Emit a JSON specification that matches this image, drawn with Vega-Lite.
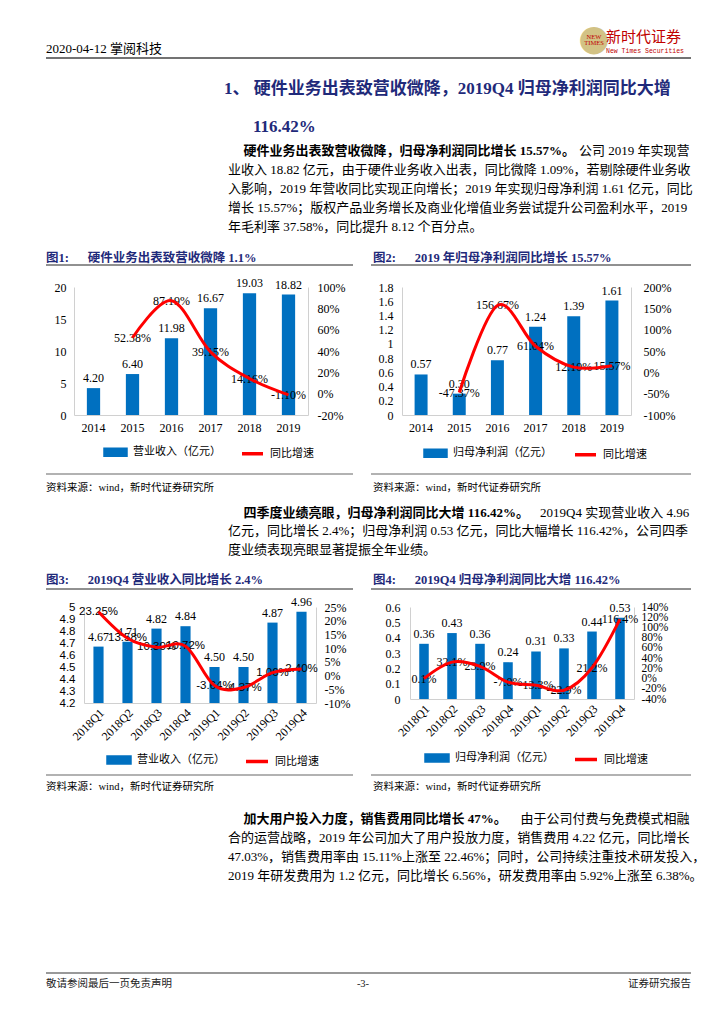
{
  "$schema": "https://vega.github.io/schema/vega-lite/v6.json",
  "padding": {"left": 45, "top": 0, "right": 0, "bottom": 0},
  "autosize": {"type": "pad"},
  "background": "white",
  "datasets": {
    "annual": [
      {"year": "2014", "rev": 4.20, "rev_yoy": null, "np": 0.57, "np_yoy": null},
      {"year": "2015", "rev": 6.40, "rev_yoy": 0.5238, "np": 0.30, "np_yoy": -0.4737},
      {"year": "2016", "rev": 11.98, "rev_yoy": 0.8719, "np": 0.77, "np_yoy": 1.5667},
      {"year": "2017", "rev": 16.67, "rev_yoy": 0.3915, "np": 1.24, "np_yoy": 0.6104},
      {"year": "2018", "rev": 19.03, "rev_yoy": 0.1416, "np": 1.39, "np_yoy": 0.1210},
      {"year": "2019", "rev": 18.82, "rev_yoy": -0.0110, "np": 1.61, "np_yoy": 0.1557}
    ],
    "quarterly": [
      {"q": "2018Q1", "rev": 4.67, "rev_yoy": 0.2325, "np": 0.36, "np_yoy": 0.001},
      {"q": "2018Q2", "rev": 4.71, "rev_yoy": 0.1358, "np": 0.43, "np_yoy": 0.321},
      {"q": "2018Q3", "rev": 4.82, "rev_yoy": 0.1030, "np": 0.36, "np_yoy": 0.239},
      {"q": "2018Q4", "rev": 4.84, "rev_yoy": 0.1072, "np": 0.24, "np_yoy": -0.070},
      {"q": "2019Q1", "rev": 4.50, "rev_yoy": -0.0364, "np": 0.31, "np_yoy": -0.133},
      {"q": "2019Q2", "rev": 4.50, "rev_yoy": -0.0437, "np": 0.33, "np_yoy": -0.229},
      {"q": "2019Q3", "rev": 4.87, "rev_yoy": 0.0106, "np": 0.44, "np_yoy": 0.212},
      {"q": "2019Q4", "rev": 4.96, "rev_yoy": 0.0240, "np": 0.53, "np_yoy": 1.164}
    ]
  },
  "config": {
    "view": {"stroke": null},
    "font": "Liberation Serif, Noto Sans CJK SC",
    "locale": {"number": {"decimal": ".", "thousands": ",", "grouping": [3], "currency": ["", ""], "minus": "-"}},
    "axis": {"grid": false, "ticks": false, "domainColor": "#D0D0D0", "domainWidth": 1, "labelColor": "#000", "labelFontSize": 12, "labelFont": "Liberation Serif, Noto Sans CJK SC", "labelOverlap": false},
    "legend": {"labelFont": "Liberation Serif, Noto Sans CJK SC", "labelFontSize": 11, "labelColor": "#000"},
    "text": {"font": "Liberation Serif, Noto Sans CJK SC", "fontSize": 12, "color": "#000"},
    "title": {"anchor": "start", "frame": "group", "font": "Liberation Serif, Noto Sans CJK SC", "subtitleFont": "Liberation Serif, Noto Sans CJK SC", "color": "#000", "subtitleColor": "#000", "fontWeight": "normal"}
  },
  "spacing": 0,
  "resolve": {"scale": {"color": "independent"}, "legend": {"color": "independent"}},
  "vconcat": [
    {
      "hconcat": [
        {"width": 538, "height": 58, "data": {"values": [{"rule": 1}]}, "mark": {"type": "rule", "color": "#444", "strokeWidth": 1.5},
         "encoding": {"y": {"datum": 0, "type": "quantitative", "scale": {"domain": [0, 1]}, "axis": null}},
         "title": {"text": "2020-04-12 掌阅科技", "offset": -56, "fontSize": 13, "color": "#000"}},
        {"width": 20, "height": 58, "data": {"values": [{"rule": 1}]}, "mark": {"type": "rule", "color": "#444", "strokeWidth": 1.5},
         "encoding": {"y": {"datum": 0, "type": "quantitative", "scale": {"domain": [0, 1]}, "axis": null}},
         "title": {"text": "●", "font": "DejaVu Sans", "fontSize": 36, "color": "#D2C285", "anchor": "middle", "offset": -58,
                   "subtitle": ["NEW", "TIMES"], "subtitleFont": "Liberation Serif", "subtitleFontSize": 6.5, "subtitleColor": "#C00000", "subtitleLineHeight": 6.5, "subtitlePadding": -24.5}},
        {"width": 87, "height": 58, "data": {"values": [{"rule": 1}]}, "mark": {"type": "rule", "color": "#444", "strokeWidth": 1.5},
         "encoding": {"y": {"datum": 0, "type": "quantitative", "scale": {"domain": [0, 1]}, "axis": null}},
         "title": {"text": "新时代证券", "offset": -54, "dx": 2, "fontSize": 15, "color": "#C00000",
                   "subtitle": "New Times Securities", "subtitleFont": "Liberation Mono", "subtitleFontSize": 6.5, "subtitleColor": "#C00000", "subtitlePadding": 3}}
      ],
      "spacing": 0, "bounds": "flush"
    },
    {"width": 645, "height": 41, "data": {"values": []}, "mark": "point", "encoding": {},
     "title": {"text": "1、 硬件业务出表致营收微降，2019Q4 归母净利润同比大增", "offset": -39, "dx": 178, "fontSize": 17, "fontWeight": "bold", "color": "#1F2A7A"}},
    {"width": 645, "height": 44, "data": {"values": []}, "mark": "point", "encoding": {},
     "title": {"text": "116.42%", "offset": -36, "dx": 207, "fontSize": 17, "fontWeight": "bold", "color": "#1F2A7A"}},
    {"width": 645, "height": 100, "data": {"values": []}, "mark": "point", "encoding": {},
     "title": {"text": "\u200b\u3000\u2009硬件业务出表致营收微降，归母净利润同比增长 15.57%。", "offset": -89.6, "dx": 182, "fontSize": 13, "fontWeight": "bold", "color": "#000",
               "subtitle": ["\u200b\u3000\u3000\u3000\u3000\u3000\u3000\u3000\u3000\u3000\u3000\u3000\u3000\u3000\u3000\u3000\u3000\u3000\u3000\u3000\u3000\u3000\u3000\u3000\u3000\u3000\u3000\u3000公司 2019 年实现营",
                            "业收入 18.82 亿元，由于硬件业务收入出表，同比微降 1.09%，若剔除硬件业务收",
                            "入影响，2019 年营收同比实现正向增长；2019 年实现归母净利润 1.61 亿元，同比",
                            "增长 15.57%；版权产品业务增长及商业化增值业务尝试提升公司盈利水平，2019",
                            "年毛利率 37.58%，同比提升 8.12 个百分点。"],
               "subtitleFontSize": 13, "subtitleFontWeight": "normal", "subtitleLineHeight": 19, "subtitlePadding": -13}},
    {
      "hconcat": [
        {"width": 307, "height": 21, "data": {"values": [{"rule": 1}]}, "mark": {"type": "rule", "color": "#222", "strokeWidth": 1},
         "encoding": {"y": {"datum": 0, "type": "quantitative", "scale": {"domain": [0, 1]}, "axis": null}},
         "title": {"text": "图1:\u3000\u2002硬件业务出表致营收微降 1.1%", "offset": -20, "fontSize": 12.5, "fontWeight": "bold", "color": "#1F2A7A"}},
        {"width": 18, "height": 21, "data": {"values": []}, "mark": "point", "encoding": {}},
        {"width": 320, "height": 21, "data": {"values": [{"rule": 1}]}, "mark": {"type": "rule", "color": "#222", "strokeWidth": 1},
         "encoding": {"y": {"datum": 0, "type": "quantitative", "scale": {"domain": [0, 1]}, "axis": null}},
         "title": {"text": "图2:\u3000\u20022019 年归母净利润同比增长 15.57%", "offset": -20, "dx": 2, "fontSize": 12.5, "fontWeight": "bold", "color": "#1F2A7A"}}
      ],
      "spacing": 0, "bounds": "flush"
    },
    {"width": 645, "height": 11, "data": {"values": []}, "mark": "point", "encoding": {}},
    {
      "hconcat": [
        {"width": 28, "height": 128, "data": {"values": []}, "mark": "point", "encoding": {}},
        {
          "width": 234, "height": 128,
          "data": {"name": "annual"},
          "encoding": {"x": {"field": "year", "type": "ordinal", "scale": {"paddingInner": 0, "paddingOuter": 0}, "axis": {"title": null, "labelAngle": 0, "labelPadding": 7}}},
          "layer": [
            {"encoding": {"y": {"field": "rev", "type": "quantitative", "scale": {"domain": [0, 20], "nice": false}, "axis": {"title": null, "values": [0, 5, 10, 15, 20], "labelPadding": 8}}},
             "layer": [
               {"mark": {"type": "bar", "width": {"band": 0.34}},
                "encoding": {"color": {"datum": "营业收入（亿元）", "scale": {"domain": ["营业收入（亿元）", "同比增速"], "range": ["#0070C0", "#FF0000"]},
                  "legend": {"orient": "none", "legendX": 29, "legendY": 152.5, "direction": "horizontal", "title": null, "symbolSize": 441, "symbolType": "M-1,-0.28H1V0.28H-1Z", "labelOffset": 5, "columnPadding": 14, "labelLimit": 300,
                    "encode": {"symbols": {"update": {"shape": {"signal": "datum.value === '同比增速' ? 'M-1,0H1' : 'M-1,-0.28H1V0.28H-1Z'"}, "fill": {"signal": "datum.value === '同比增速' ? 'transparent' : '#0070C0'"}, "stroke": {"signal": "datum.value === '同比增速' ? '#FF0000' : 'transparent'"}, "strokeWidth": {"value": 3.5}, "opacity": {"value": 1}}}}}}}},
               {"mark": {"type": "text", "baseline": "bottom", "dy": -3}, "encoding": {"text": {"field": "rev", "type": "quantitative", "format": ".2f"}}}
             ]},
            {"encoding": {"y": {"field": "rev_yoy", "type": "quantitative", "scale": {"domain": [-0.2, 1], "nice": false, "zero": false}, "axis": {"title": null, "orient": "right", "values": [-0.2, 0, 0.2, 0.4, 0.6, 0.8, 1], "format": ".0%", "labelPadding": 9}}},
             "layer": [
               {"mark": {"type": "text", "baseline": "middle"}, "encoding": {"text": {"field": "rev_yoy", "type": "quantitative", "format": ".2%"}}},
               {"mark": {"type": "line", "strokeWidth": 3, "interpolate": "cardinal"}, "encoding": {"color": {"datum": "同比增速"}}}
             ]}
          ],
          "resolve": {"scale": {"y": "independent"}}
        },
        {"width": 94, "height": 128, "data": {"values": []}, "mark": "point", "encoding": {}},
        {
          "width": 229, "height": 128,
          "data": {"name": "annual"},
          "encoding": {"x": {"field": "year", "type": "ordinal", "scale": {"paddingInner": 0, "paddingOuter": 0}, "axis": {"title": null, "labelAngle": 0, "labelPadding": 7}}},
          "layer": [
            {"encoding": {"y": {"field": "np", "type": "quantitative", "scale": {"domain": [0, 1.8], "nice": false}, "axis": {"title": null, "values": [0, 0.2, 0.4, 0.6, 0.8, 1, 1.2, 1.4, 1.6, 1.8], "format": ".1~f", "labelPadding": 9}}},
             "layer": [
               {"mark": {"type": "bar", "width": {"band": 0.34}},
                "encoding": {"color": {"datum": "归母净利润（亿元）", "scale": {"domain": ["归母净利润（亿元）", "同比增速"], "range": ["#0070C0", "#FF0000"]},
                  "legend": {"orient": "none", "legendX": 21, "legendY": 153.5, "direction": "horizontal", "title": null, "symbolSize": 441, "symbolType": "M-1,-0.28H1V0.28H-1Z", "labelOffset": 5, "columnPadding": 16, "labelLimit": 300,
                    "encode": {"symbols": {"update": {"shape": {"signal": "datum.value === '同比增速' ? 'M-1,0H1' : 'M-1,-0.28H1V0.28H-1Z'"}, "fill": {"signal": "datum.value === '同比增速' ? 'transparent' : '#0070C0'"}, "stroke": {"signal": "datum.value === '同比增速' ? '#FF0000' : 'transparent'"}, "strokeWidth": {"value": 3.5}, "opacity": {"value": 1}}}}}}}},
               {"mark": {"type": "text", "baseline": "bottom", "dy": -3}, "encoding": {"text": {"field": "np", "type": "quantitative", "format": ".2f"}}}
             ]},
            {"encoding": {"y": {"field": "np_yoy", "type": "quantitative", "scale": {"domain": [-1, 2], "nice": false, "zero": false}, "axis": {"title": null, "orient": "right", "values": [-1, -0.5, 0, 0.5, 1, 1.5, 2], "format": ".0%", "labelPadding": 12}}},
             "layer": [
               {"mark": {"type": "text", "baseline": "middle"}, "encoding": {"text": {"field": "np_yoy", "type": "quantitative", "format": ".2%"}}},
               {"mark": {"type": "line", "strokeWidth": 3, "interpolate": "cardinal"}, "encoding": {"color": {"datum": "同比增速"}}}
             ]}
          ],
          "resolve": {"scale": {"y": "independent"}}
        }
      ],
      "spacing": 0, "bounds": "flush",
      "resolve": {"scale": {"color": "independent"}, "legend": {"color": "independent"}}
    },
    {
      "hconcat": [
        {"width": 307, "height": 10, "data": {"values": [{"rule": 1}]}, "mark": {"type": "rule", "color": "#999", "strokeWidth": 1.5},
         "encoding": {"y": {"datum": 0, "type": "quantitative", "scale": {"domain": [0, 1]}, "axis": null}}},
        {"width": 18, "height": 10, "data": {"values": []}, "mark": "point", "encoding": {}},
        {"width": 320, "height": 10, "data": {"values": [{"rule": 1}]}, "mark": {"type": "rule", "color": "#999", "strokeWidth": 1.5},
         "encoding": {"y": {"datum": 0, "type": "quantitative", "scale": {"domain": [0, 1]}, "axis": null}}}
      ],
      "spacing": 0, "bounds": "flush"
    },
    {
      "hconcat": [
        {"width": 307, "height": 31, "data": {"values": []}, "mark": "point", "encoding": {},
         "title": {"text": "资料来源：wind，新时代证券研究所", "offset": -18.1, "fontSize": 10.5, "color": "#000"}},
        {"width": 18, "height": 31, "data": {"values": []}, "mark": "point", "encoding": {}},
        {"width": 320, "height": 31, "data": {"values": []}, "mark": "point", "encoding": {},
         "title": {"text": "资料来源：wind，新时代证券研究所", "offset": -18.1, "dx": 2, "fontSize": 10.5, "color": "#000"}}
      ],
      "spacing": 0, "bounds": "flush"
    },
    {"width": 645, "height": 61, "data": {"values": []}, "mark": "point", "encoding": {},
     "title": {"text": "\u200b\u3000\u2009四季度业绩亮眼，归母净利润同比大增 116.42%。", "offset": -50.6, "dx": 182, "fontSize": 13, "fontWeight": "bold", "color": "#000",
               "subtitle": ["\u200b\u3000\u3000\u3000\u3000\u3000\u3000\u3000\u3000\u3000\u3000\u3000\u3000\u3000\u3000\u3000\u3000\u3000\u3000\u3000\u3000\u3000\u3000\u3000\u30002019Q4 实现营业收入 4.96",
                            "亿元，同比增长 2.4%；归母净利润 0.53 亿元，同比大幅增长 116.42%，公司四季",
                            "度业绩表现亮眼显著提振全年业绩。"],
               "subtitleFontSize": 13, "subtitleFontWeight": "normal", "subtitleLineHeight": 18.5, "subtitlePadding": -13}},
    {
      "hconcat": [
        {"width": 307, "height": 22, "data": {"values": [{"rule": 1}]}, "mark": {"type": "rule", "color": "#222", "strokeWidth": 1},
         "encoding": {"y": {"datum": 0, "type": "quantitative", "scale": {"domain": [0, 1]}, "axis": null}},
         "title": {"text": "图3:\u3000\u20022019Q4 营业收入同比增长 2.4%", "offset": -19.5, "fontSize": 12.5, "fontWeight": "bold", "color": "#1F2A7A"}},
        {"width": 18, "height": 22, "data": {"values": []}, "mark": "point", "encoding": {}},
        {"width": 320, "height": 22, "data": {"values": [{"rule": 1}]}, "mark": {"type": "rule", "color": "#222", "strokeWidth": 1},
         "encoding": {"y": {"datum": 0, "type": "quantitative", "scale": {"domain": [0, 1]}, "axis": null}},
         "title": {"text": "图4:\u3000\u20022019Q4 归母净利润同比大增 116.42%", "offset": -19.5, "dx": 2, "fontSize": 12.5, "fontWeight": "bold", "color": "#1F2A7A"}}
      ],
      "spacing": 0, "bounds": "flush"
    },
    {"width": 645, "height": 5, "data": {"values": []}, "mark": "point", "encoding": {}},
    {
      "hconcat": [
        {"width": 38, "height": 96, "data": {"values": []}, "mark": "point", "encoding": {}},
        {
          "width": 232, "height": 96,
          "data": {"name": "quarterly"},
          "encoding": {"x": {"field": "q", "type": "ordinal", "scale": {"paddingInner": 0, "paddingOuter": 0}, "axis": {"title": null, "labelAngle": -45, "labelPadding": 4}}},
          "layer": [
            {"encoding": {"y": {"field": "rev", "type": "quantitative", "scale": {"domain": [4.2, 5], "nice": false, "zero": false}, "axis": {"title": null, "values": [4.2, 4.3, 4.4, 4.5, 4.6, 4.7, 4.8, 4.9, 5], "format": ".1~f", "labelPadding": 9, "labelFont": "Liberation Sans, Noto Sans CJK SC", "labelFontSize": 11.5}}},
             "layer": [
               {"mark": {"type": "bar", "width": {"band": 0.35}},
                "encoding": {"y2": {"datum": 4.2},
                  "color": {"datum": "营业收入（亿元）", "scale": {"domain": ["营业收入（亿元）", "同比增速"], "range": ["#0070C0", "#FF0000"]},
                  "legend": {"orient": "none", "legendX": 22, "legendY": 139.5, "direction": "horizontal", "title": null, "symbolSize": 484, "symbolType": "M-1,-0.28H1V0.28H-1Z", "labelOffset": 5, "columnPadding": 14, "labelLimit": 300,
                    "encode": {"symbols": {"update": {"shape": {"signal": "datum.value === '同比增速' ? 'M-1,0H1' : 'M-1,-0.28H1V0.28H-1Z'"}, "fill": {"signal": "datum.value === '同比增速' ? 'transparent' : '#0070C0'"}, "stroke": {"signal": "datum.value === '同比增速' ? '#FF0000' : 'transparent'"}, "strokeWidth": {"value": 3.5}, "opacity": {"value": 1}}}}}}}},
               {"mark": {"type": "text", "baseline": "bottom", "dy": -3}, "encoding": {"text": {"field": "rev", "type": "quantitative", "format": ".2f"}}}
             ]},
            {"encoding": {"y": {"field": "rev_yoy", "type": "quantitative", "scale": {"domain": [-0.1, 0.25], "nice": false, "zero": false}, "axis": {"title": null, "orient": "right", "values": [-0.1, -0.05, 0, 0.05, 0.1, 0.15, 0.2, 0.25], "format": ".0%", "labelPadding": 8}}},
             "layer": [
               {"mark": {"type": "text", "baseline": "middle", "font": "Liberation Sans, Noto Sans CJK SC", "fontSize": 11.5}, "encoding": {"text": {"field": "rev_yoy", "type": "quantitative", "format": ".2%"}}},
               {"mark": {"type": "line", "strokeWidth": 3, "interpolate": "cardinal"}, "encoding": {"color": {"datum": "同比增速"}}}
             ]}
          ],
          "resolve": {"scale": {"y": "independent"}}
        },
        {"width": 94, "height": 96, "data": {"values": []}, "mark": "point", "encoding": {}},
        {
          "width": 224, "height": 92,
          "data": {"name": "quarterly"},
          "encoding": {"x": {"field": "q", "type": "ordinal", "scale": {"paddingInner": 0, "paddingOuter": 0}, "axis": {"title": null, "labelAngle": -45, "labelPadding": 4}}},
          "layer": [
            {"encoding": {"y": {"field": "np", "type": "quantitative", "scale": {"domain": [0, 0.6], "nice": false}, "axis": {"title": null, "values": [0, 0.1, 0.2, 0.3, 0.4, 0.5, 0.6], "format": ".1~f", "labelPadding": 10}}},
             "layer": [
               {"mark": {"type": "bar", "width": {"band": 0.34}},
                "encoding": {"color": {"datum": "归母净利润（亿元）", "scale": {"domain": ["归母净利润（亿元）", "同比增速"], "range": ["#0070C0", "#FF0000"]},
                  "legend": {"orient": "none", "legendX": 14, "legendY": 137.5, "direction": "horizontal", "title": null, "symbolSize": 484, "symbolType": "M-1,-0.28H1V0.28H-1Z", "labelOffset": 5, "columnPadding": 14, "labelLimit": 300,
                    "encode": {"symbols": {"update": {"shape": {"signal": "datum.value === '同比增速' ? 'M-1,0H1' : 'M-1,-0.28H1V0.28H-1Z'"}, "fill": {"signal": "datum.value === '同比增速' ? 'transparent' : '#0070C0'"}, "stroke": {"signal": "datum.value === '同比增速' ? '#FF0000' : 'transparent'"}, "strokeWidth": {"value": 3.5}, "opacity": {"value": 1}}}}}}}},
               {"mark": {"type": "text", "baseline": "bottom", "dy": -3}, "encoding": {"text": {"field": "np", "type": "quantitative", "format": ".2f"}}}
             ]},
            {"encoding": {"y": {"field": "np_yoy", "type": "quantitative", "scale": {"domain": [-0.4, 1.4], "nice": false, "zero": false}, "axis": {"title": null, "orient": "right", "values": [-0.4, -0.2, 0, 0.2, 0.4, 0.6, 0.8, 1, 1.2, 1.4], "format": ".0%", "labelPadding": 7, "labelFontSize": 11.5}}},
             "layer": [
               {"mark": {"type": "text", "baseline": "middle"}, "encoding": {"text": {"field": "np_yoy", "type": "quantitative", "format": ".1%"}}},
               {"mark": {"type": "line", "strokeWidth": 3, "interpolate": "cardinal"}, "encoding": {"color": {"datum": "同比增速"}}}
             ]}
          ],
          "resolve": {"scale": {"y": "independent"}}
        }
      ],
      "spacing": 0, "bounds": "flush",
      "resolve": {"scale": {"color": "independent"}, "legend": {"color": "independent"}}
    },
    {
      "hconcat": [
        {"width": 307, "height": 4, "data": {"values": [{"rule": 1}]}, "mark": {"type": "rule", "color": "#999", "strokeWidth": 1.5},
         "encoding": {"y": {"datum": 0, "type": "quantitative", "scale": {"domain": [0, 1]}, "axis": null}}},
        {"width": 18, "height": 4, "data": {"values": []}, "mark": "point", "encoding": {}},
        {"width": 320, "height": 4, "data": {"values": [{"rule": 1}]}, "mark": {"type": "rule", "color": "#999", "strokeWidth": 1.5},
         "encoding": {"y": {"datum": 0, "type": "quantitative", "scale": {"domain": [0, 1]}, "axis": null}}}
      ],
      "spacing": 0, "bounds": "flush"
    },
    {
      "hconcat": [
        {"width": 307, "height": 36, "data": {"values": []}, "mark": "point", "encoding": {},
         "title": {"text": "资料来源：wind，新时代证券研究所", "offset": -16.1, "fontSize": 10.5, "color": "#000"}},
        {"width": 18, "height": 36, "data": {"values": []}, "mark": "point", "encoding": {}},
        {"width": 320, "height": 36, "data": {"values": []}, "mark": "point", "encoding": {},
         "title": {"text": "资料来源：wind，新时代证券研究所", "offset": -16.1, "dx": 2, "fontSize": 10.5, "color": "#000"}}
      ],
      "spacing": 0, "bounds": "flush"
    },
    {"width": 645, "height": 147, "data": {"values": []}, "mark": "point", "encoding": {},
     "title": {"text": "\u200b\u3000\u2009加大用户投入力度，销售费用同比增长 47%。", "offset": -70.6, "dx": 182, "fontSize": 13, "fontWeight": "bold", "color": "#000",
               "subtitle": ["\u200b\u3000\u3000\u3000\u3000\u3000\u3000\u3000\u3000\u3000\u3000\u3000\u3000\u3000\u3000\u3000\u3000\u3000\u3000\u3000\u3000\u3000\u3000\u2002由于公司付费与免费模式相融",
                            "合的运营战略，2019 年公司加大了用户投放力度，销售费用 4.22 亿元，同比增长",
                            "47.03%，销售费用率由 15.11%上涨至 22.46%；同时，公司持续注重技术研发投入，",
                            "2019 年研发费用为 1.2 亿元，同比增长 6.56%，研发费用率由 5.92%上涨至 6.38%。"],
               "subtitleFontSize": 13, "subtitleFontWeight": "normal", "subtitleLineHeight": 19, "subtitlePadding": -13}},
    {"width": 645, "height": 14, "data": {"values": [{"rule": 1}]}, "mark": {"type": "rule", "color": "#777", "strokeWidth": 1.5},
     "encoding": {"y": {"datum": 0, "type": "quantitative", "scale": {"domain": [0, 1]}, "axis": null}}},
    {
      "hconcat": [
        {"width": 272, "height": 49, "data": {"values": []}, "mark": "point", "encoding": {},
         "title": {"text": "敬请参阅最后一页免责声明", "offset": -15.1, "fontSize": 10.5, "color": "#222"}},
        {"width": 90, "height": 49, "data": {"values": []}, "mark": "point", "encoding": {},
         "title": {"text": "-3-", "anchor": "middle", "offset": -15.1, "fontSize": 10.5, "color": "#222"}},
        {"width": 283, "height": 49, "data": {"values": []}, "mark": "point", "encoding": {},
         "title": {"text": "证券研究报告", "anchor": "end", "offset": -15.1, "fontSize": 10.5, "color": "#222"}}
      ],
      "spacing": 0, "bounds": "flush"
    }
  ]
}
